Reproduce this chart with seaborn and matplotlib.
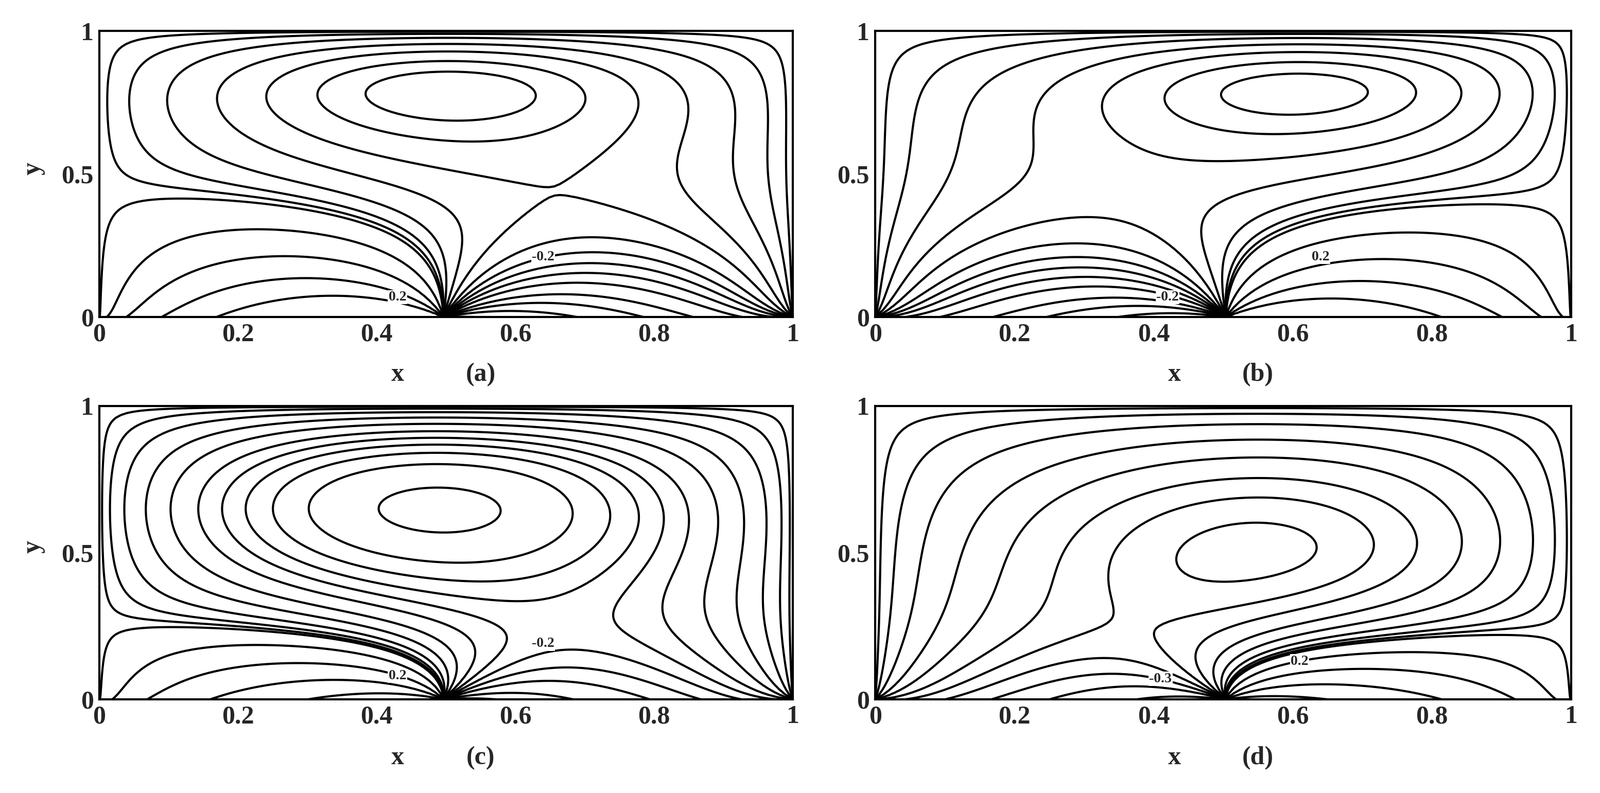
import numpy as np
import matplotlib
matplotlib.use("Agg")
import matplotlib.pyplot as plt
import seaborn as sns

sns.set_style("white")
plt.rcParams['font.family'] = ['Liberation Serif', 'DejaVu Serif']
plt.rcParams['font.weight'] = 'bold'

panel_tags = ["(a)", "(b)", "(c)", "(d)"]
mirror = [False, True, False, True]
# bottom boundary: left-half peak value, right-half value at x=0.5 and at x=1
bottom_left_peak = [1.5, 1.4, 1.0, 0.9]
bottom_right_start = [-1.5, -1.4, -1.0, -0.9]
bottom_right_end = [-0.45, -0.42, -0.32, -0.3]
# vortex forcing: amplitude, centre, widths
vortex_amp = [30.0, 30.0, 30.0, 14.0]
vortex_xc = [0.50, 0.38, 0.48, 0.42]
vortex_yc = [0.82, 0.82, 0.68, 0.50]
vortex_sx = [0.22, 0.22, 0.25, 0.24]
vortex_sy = [0.12, 0.12, 0.20, 0.26]
levels = [-1.4, -1.1, -0.9, -0.75, -0.6, -0.5, -0.42, -0.35, -0.28, -0.2, -0.13, -0.07, -0.03, -0.008,
          0.008, 0.1, 0.25, 0.45, 0.7]
label_text = [["0.2", "-0.2"], ["-0.2", "0.2"], ["0.2", "-0.2"], ["-0.3", "0.2"]]
label_pos = [[(0.43, 0.07), (0.64, 0.21)], [(0.42, 0.07), (0.64, 0.21)],
             [(0.43, 0.08), (0.64, 0.19)], [(0.41, 0.07), (0.61, 0.13)]]

N = 128
h = 1.0 / N
k = np.arange(1, N)
S = np.sin(np.pi * np.outer(k, k) / N)
lam = -(2 - 2 * np.cos(np.pi * k / N)) / h**2
xg = np.linspace(0, 1, N + 1)
X, Y = np.meshgrid(xg, xg, indexing="ij")


def solve(i):
    g = np.where(xg < 0.5, bottom_left_peak[i] * np.clip(xg / 0.5, 0, 1) ** 0.7,
                 bottom_right_start[i] + (bottom_right_end[i] - bottom_right_start[i]) * (xg - 0.5) / 0.5)
    g[0] = 0.0
    g[-1] = 0.0
    F = vortex_amp[i] * np.exp(-((X - vortex_xc[i]) ** 2 / vortex_sx[i] ** 2 + (Y - vortex_yc[i]) ** 2 / vortex_sy[i] ** 2))
    Fi = F[1:-1, 1:-1].copy()
    Fi[:, 0] -= g[1:-1] / h**2
    fh = S @ Fi @ S
    uh = fh / (lam[:, None] + lam[None, :])
    u = S @ uh @ S * (2.0 / N) ** 2
    psi = np.zeros((N + 1, N + 1))
    psi[1:-1, 1:-1] = u
    psi[:, 0] = g
    if mirror[i]:
        psi = psi[::-1, :]
    return psi


fig = plt.figure(figsize=(15.54, 7.705), dpi=200)
boxes = [(0.062, 0.600, 0.4335, 0.361), (0.547, 0.600, 0.435, 0.361),
         (0.062, 0.118, 0.4335, 0.370), (0.547, 0.118, 0.435, 0.370)]
for i, b in enumerate(boxes):
    ax = fig.add_axes(b)
    psi = solve(i)
    ax.contour(X, Y, psi, levels=levels, colors="black", linewidths=1.5, linestyles="solid")
    ax.set_xlim(0, 1)
    ax.set_ylim(0, 1)
    ax.set_xticks([0, 0.2, 0.4, 0.6, 0.8, 1])
    ax.set_xticklabels(["0", "0.2", "0.4", "0.6", "0.8", "1"])
    ax.set_yticks([0, 0.5, 1])
    ax.set_yticklabels(["0", "0.5", "1"])
    ax.tick_params(direction="in", labelsize=18, length=4, width=1, pad=4)
    for s in ax.spines.values():
        s.set_linewidth(1.5)
        s.set_color("black")
    ax.text(0.43, -0.2, "x", transform=ax.transAxes, ha="center", va="center", fontsize=18, fontweight="bold")
    ax.text(0.55, -0.2, panel_tags[i], transform=ax.transAxes, ha="center", va="center", fontsize=18, fontweight="bold")
    if i % 2 == 0:
        ax.text(-0.095, 0.52, "y", transform=ax.transAxes, ha="center", va="center", fontsize=18, fontweight="bold", rotation=90)
    for t, p in zip(label_text[i], label_pos[i]):
        ax.text(p[0], p[1], t, ha="center", va="center", fontsize=10, fontweight="bold",
                bbox=dict(facecolor="white", edgecolor="none", pad=0.5))

fig.savefig("out.png", dpi=200, facecolor="white")
